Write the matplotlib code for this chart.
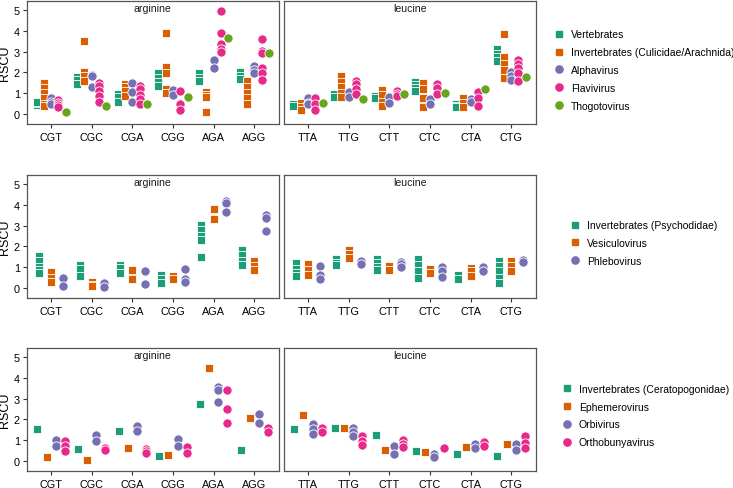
"""RSCU of arginine / leucine codons by host and virus group (3 rows)."""

import matplotlib.pyplot as plt
from matplotlib.lines import Line2D

plt.rcParams['font.family'] = ['Liberation Sans', 'DejaVu Sans']

codons_arg = ["CGT", "CGC", "CGA", "CGG", "AGA", "AGG"]
codons_leu = ["TTA", "TTG", "CTT", "CTC", "CTA", "CTG"]

# each list: 12 codons (6 arginine then 6 leucine), several species per codon
# row 1
vertebrates = [
    [0.45, 0.55, 0.6], [1.8, 1.65, 1.45], [0.95, 0.8, 0.6], [1.95, 1.75, 1.55, 1.35],
    [1.95, 1.75, 1.6], [2.0, 1.85, 1.7],
    [0.5, 0.4], [0.95, 0.8], [0.85, 0.75], [1.55, 1.4, 1.25, 1.1], [0.5, 0.4, 0.32],
    [3.15, 2.9, 2.75, 2.55]]
inv_culicidae = [
    [1.5, 1.25, 1.0, 0.75, 0.5, 0.4], [3.5, 2.0, 1.85, 1.6], [1.45, 1.3, 1.1, 0.85],
    [3.9, 2.25, 1.95, 1.2, 1.0], [1.05, 0.9, 0.8, 0.1], [1.6, 1.3, 1.0, 0.75, 0.5],
    [0.55, 0.35, 0.2], [1.85, 1.55, 1.3, 1.0, 0.8], [1.15, 0.9, 0.6, 0.4],
    [1.5, 1.2, 0.75, 0.35], [0.75, 0.55, 0.35], [3.85, 2.75, 2.4, 2.1, 1.75]]
alphavirus = [
    [0.75, 0.6, 0.5], [1.9, 1.85, 1.3], [1.5, 1.05, 0.6], [1.15, 0.9], [2.6, 2.2],
    [2.3, 2.1, 1.95],
    [0.75, 0.55, 0.5], [1.05, 0.8], [0.8, 0.55], [0.7, 0.5], [0.7, 0.6], [2.0, 1.85, 1.65]]
flavivirus = [
    [0.65, 0.55, 0.45, 0.35], [1.5, 1.35, 1.1, 0.85, 0.6], [1.35, 1.2, 0.9, 0.7, 0.5],
    [1.1, 0.5, 0.2], [4.95, 3.9, 3.35, 3.15, 3.0], [3.6, 3.05, 2.95, 2.2, 1.95, 1.65],
    [0.75, 0.5, 0.2], [1.6, 1.45, 1.2, 0.95], [1.1, 0.95, 0.85], [1.45, 1.25, 0.95],
    [1.05, 0.75, 0.4], [2.6, 2.4, 2.2, 1.95, 1.6]]
thogotovirus = [[0.1], [0.4], [0.5], [0.8], [3.65], [2.95],
                [0.52], [0.73], [0.96], [1.03], [1.2], [1.77]]

# row 2
inv_psychodidae = [
    [1.55, 1.3, 1.0, 0.85, 0.7], [1.1, 0.9, 0.6], [1.1, 0.95, 0.7], [0.65, 0.45, 0.25],
    [3.05, 2.8, 2.5, 2.3, 1.5], [1.85, 1.6, 1.3, 1.1],
    [1.2, 0.9, 0.7, 0.6], [1.4, 1.2, 1.1], [1.4, 1.2, 1.0, 0.85], [1.4, 1.1, 0.8, 0.5],
    [0.65, 0.45], [1.3, 1.05, 0.8, 0.5, 0.25]]
vesiculovirus = [
    [0.75, 0.5, 0.3], [0.3, 0.15, 0.1], [0.88, 0.42], [0.6, 0.45], [3.8, 3.3],
    [1.3, 1.05, 0.85],
    [1.15, 0.85, 0.65], [1.85, 1.65, 1.45], [1.05, 0.85], [0.9, 0.7], [0.95, 0.8, 0.6],
    [1.3, 1.05, 0.8]]
phlebovirus = [
    [0.5, 0.1], [0.25, 0.05], [0.82, 0.2], [0.9, 0.42, 0.28], [4.2, 4.1, 3.65],
    [3.5, 3.35, 2.75],
    [1.05, 0.62, 0.43], [1.3, 1.15], [1.25, 1.15, 1.0], [1.03, 0.83, 0.55], [1.0, 0.8],
    [1.35, 1.25]]

# row 3
inv_ceratopogonidae = [[1.53], [0.56], [1.44], [0.24], [2.75], [0.54],
                       [1.53], [1.61], [1.25], [0.46], [0.35], [0.22]]
ephemerovirus = [[0.18], [0.06], [0.61], [0.3], [4.49], [2.05],
                 [2.2], [1.61], [0.51], [0.42], [0.69], [0.83]]
orbivirus = [
    [1.02, 0.72], [1.25, 0.96], [1.69, 1.44], [1.05, 0.7], [3.58, 3.42, 2.85], [2.25, 1.85],
    [1.8, 1.56, 1.29], [1.6, 1.4, 1.18], [0.7, 0.35], [0.34, 0.18], [0.83, 0.64], [0.8, 0.55]]
orthobunyavirus = [
    [0.95, 0.72, 0.5], [0.62, 0.52], [0.6, 0.5, 0.4], [0.67, 0.37], [3.42, 2.52, 1.84],
    [1.61, 1.4],
    [1.61, 1.4], [1.18, 0.97, 0.77], [1.0, 0.81, 0.65], [0.61], [0.9, 0.74],
    [1.18, 0.86, 0.61]]

GREEN, ORANGE, PURPLE, PINK, LIME = "#1B9E77", "#D95F02", "#7570B3", "#E7298A", "#66A61E"

rows = [
    ([(vertebrates, "Vertebrates", "s", GREEN),
      (inv_culicidae, "Invertebrates (Culicidae/Arachnida)", "s", ORANGE),
      (alphavirus, "Alphavirus", "o", PURPLE),
      (flavivirus, "Flavivirus", "o", PINK),
      (thogotovirus, "Thogotovirus", "o", LIME)], 0.7444, 555, 71),
    ([(inv_psychodidae, "Invertebrates (Psychodidae)", "s", GREEN),
      (vesiculovirus, "Vesiculovirus", "s", ORANGE),
      (phlebovirus, "Phlebovirus", "o", PURPLE)], 0.3885, 571, 244),
    ([(inv_ceratopogonidae, "Invertebrates (Ceratopogonidae)", "s", GREEN),
      (ephemerovirus, "Ephemerovirus", "s", ORANGE),
      (orbivirus, "Orbivirus", "o", PURPLE),
      (orthobunyavirus, "Orthobunyavirus", "o", PINK)], 0.0348, 563, 416.5),
]

W, H = 733, 489
fig = plt.figure(figsize=(W / 100, H / 100), dpi=100)

FS = 7.8
for groups, bottom, leg_x, leg_y in rows:
    n = len(groups)
    for p, (codons, name, start) in enumerate([(codons_arg, "arginine", 0),
                                               (codons_leu, "leucine", 6)]):
        left = 0.0365 if p == 0 else 0.387
        ax = fig.add_axes([left, bottom, 0.3436, 0.2525])
        for g, (vals, label, marker, color) in enumerate(groups):
            off = (g - (n - 1) / 2) * 0.9 / n
            for i in range(6):
                v = vals[start + i]
                ax.scatter([i + off] * len(v), v, marker=marker,
                           s=34 if marker == "s" else 44, color=color,
                           edgecolor="white", linewidth=0.6, zorder=3)
        ax.set_xlim(-0.6, 5.6)
        ax.set_ylim(-0.48, 5.46)
        ax.set_xticks(range(6))
        ax.set_xticklabels(codons, fontsize=FS)
        ax.text(0.5, 0.94, name, transform=ax.transAxes, ha="center",
                va="center", fontsize=7.6, color="#1a1a1a")
        for sp in ax.spines.values():
            sp.set_color("#555555")
            sp.set_linewidth(0.9)
        ax.tick_params(axis="x", length=3.2, width=0.8, color="#333333", pad=2.6)
        if p == 0:
            ax.set_yticks(range(6))
            ax.tick_params(axis="y", length=3.2, width=0.8, color="#333333",
                           labelsize=FS, pad=1.8)
            ax.set_ylabel("RSCU", fontsize=9, labelpad=2)
        else:
            ax.set_yticks([])

    handles = [Line2D([], [], linestyle="none", marker=m, color=c,
                      markersize=4.4 if m == "s" else 5.2, label=lab)
               for _, lab, m, c in groups]
    fig.legend(handles=handles, loc="center left",
               bbox_to_anchor=(leg_x / W, 1 - leg_y / H), frameon=False,
               fontsize=7.5, handlelength=0.8, handletextpad=0.72,
               labelspacing=0.75, borderpad=0, borderaxespad=0)

fig.savefig("out.png", dpi=100)
